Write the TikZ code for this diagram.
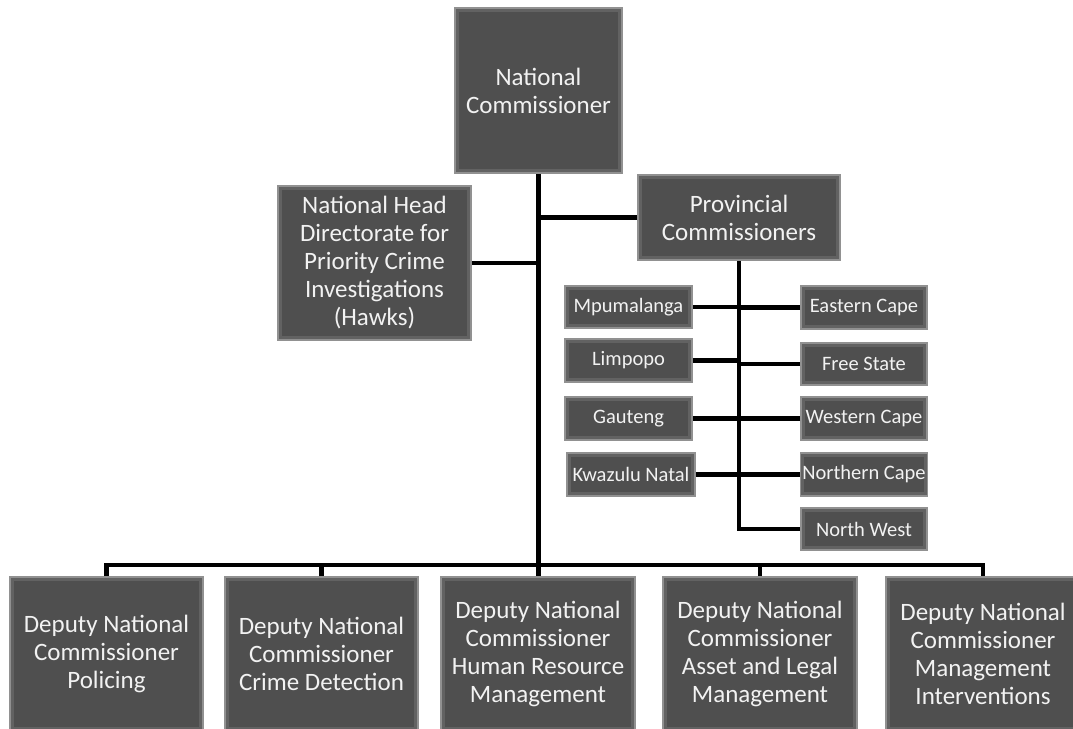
\documentclass[tikz,border=0pt]{standalone}
\usepackage{fontspec}
\setmainfont{Carlito}
\definecolor{boxfill}{RGB}{79,79,79}
\definecolor{boxbevel}{RGB}{98,98,98}
\definecolor{boxedge}{RGB}{145,145,145}
\definecolor{boxtext}{RGB}{242,242,242}
\tikzstyle{unit}=[rectangle,draw=boxedge,line width=1.6pt,fill=boxfill,text=boxtext,align=center,inner sep=2pt,
    path picture={\draw[boxbevel,line width=8pt] (path picture bounding box.south west) rectangle (path picture bounding box.north east);}]
\tikzstyle{bigbox}=[unit,font=\fontsize{25}{28}\selectfont]
\tikzstyle{smallbox}=[unit,font=\fontsize{20.5}{23}\selectfont]
\tikzstyle{link}=[draw=black,line width=4.5pt]

\begin{document}
\begin{tikzpicture}[x=1pt,y=-1pt]
        \useasboundingbox (0,0) rectangle (1073,728);
        \clip (0,0) rectangle (1073,728);
        \draw (538.5,90.5) node[bigbox,minimum width=167pt,minimum height=165pt](nc){National\\Commissioner};
        \draw (374.5,263) node[bigbox,minimum width=193pt,minimum height=154pt](hawks){National Head\\Directorate for\\Priority Crime\\Investigations\\(Hawks)};
        \draw (739,217.5) node[bigbox,minimum width=202pt,minimum height=85pt](prov){Provincial\\Commissioners};
        %
        \draw (628.5,307)   node[smallbox,minimum width=127pt,minimum height=42pt](mpu){Mpumalanga};
        \draw (628.5,360.5) node[smallbox,minimum width=127pt,minimum height=43pt](lim){Limpopo};
        \draw (628.5,418.5) node[smallbox,minimum width=127pt,minimum height=43pt](gau){Gauteng};
        \draw (631,474.5)   node[smallbox,minimum width=128pt,minimum height=43pt](kzn){Kwazulu Natal};
        \draw (864,307.5)   node[smallbox,minimum width=126pt,minimum height=43pt](ec){Eastern Cape};
        \draw (864,364)     node[smallbox,minimum width=126pt,minimum height=42pt](fs){Free State};
        \draw (864,418.5)   node[smallbox,minimum width=126pt,minimum height=43pt](wc){Western Cape};
        \draw (864,474.5)   node[smallbox,minimum width=126pt,minimum height=43pt](ncp){Northern Cape};
        \draw (864,529)     node[smallbox,minimum width=126pt,minimum height=42pt](nw){North West};
        %
        \draw (106.5,654) node[bigbox,minimum width=193pt,minimum height=154pt](dep1){Deputy National\\Commissioner\\Policing};
        \draw (321.5,654) node[bigbox,minimum width=193pt,minimum height=154pt](dep2){Deputy National\\Commissioner\\Crime Detection};
        \draw (538,654)   node[bigbox,minimum width=194pt,minimum height=154pt](dep3){Deputy National\\Commissioner\\Human Resource\\Management};
        \draw (760,654)   node[bigbox,minimum width=194pt,minimum height=154pt](dep4){Deputy National\\Commissioner\\Asset and Legal\\Management};
        \draw (983,654)   node[bigbox,minimum width=194pt,minimum height=154pt](dep5){Deputy National\\Commissioner\\Management\\Interventions};
        %
        \coordinate (bus) at (538.5,565);
        \draw[link] (nc.south) -- (nc.south |- dep3.north);
        \draw[link] (hawks.east) -- (hawks.east -| nc.south);
        \draw[link] (prov.west) -- (prov.west -| nc.south);
        \draw[link] (prov.south) |- (nw.west);
        \foreach \p in {mpu,lim,gau,kzn}
            \draw[link] (\p.east) -- (\p.east -| prov.south);
        \foreach \p in {ec,fs,wc,ncp}
            \draw[link] (\p.west) -- (\p.west -| prov.south);
        \draw[link] (dep1.north) |- (bus) -| (dep5.north);
        \foreach \p in {dep2,dep4}
            \draw[link] (\p.north) -- (\p.north |- bus);
        %;
      \end{tikzpicture}
\end{document}
